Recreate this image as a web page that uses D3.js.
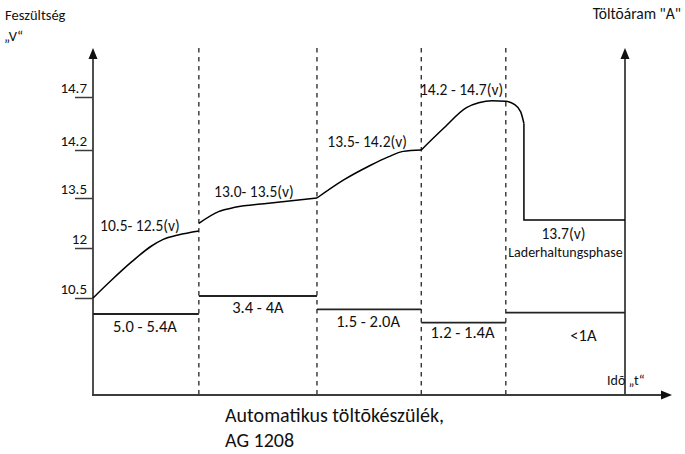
<!DOCTYPE html>
<html><head><meta charset="utf-8">
<script src="https://cdn.jsdelivr.net/npm/d3@7"></script>
<style>
html,body{margin:0;padding:0;background:#fff;}
svg{display:block;}
text{font-family:Carlito, Calibri, Lato, "Open Sans", sans-serif;fill:#111;}
</style></head>
<body>
<svg id="chart" width="685" height="454"></svg>
<script>
// ---------- DATA ----------
const voltageTicks = [10.5, 12, 13.5, 14.2, 14.7];
const voltageTickLabels = ["10.5", "12", "13.5", "14.2", "14.7"];
// phase boundaries along the time axis (0..100, schematic)
const phaseBounds = [0, 19.9, 42.1, 61.7, 77.6, 100];
const voltageLabels = ["10.5- 12.5(v)", "13.0- 13.5(v)", "13.5- 14.2(v)", "14.2 - 14.7(v)", "13.7(v)"];
const currentLabels = ["5.0 - 5.4A", "3.4 - 4A", "1.5 - 2.0A", "1.2 - 1.4A", "<1A"];
// relative current level (schematic) of each phase
const currentLevels = [0.81, 0.99, 0.857, 0.723, 0.823];
// voltage curve per phase: [time, volts]
const phase1 = [[0,10.5],[3.5,11.04],[7.3,11.59],[11.0,12.06],[13.2,12.26],[16.0,12.39],[19.9,12.51]];
const phase2 = [[19.9,12.74],[23.6,13.09],[26.7,13.22],[33.0,13.34],[42.1,13.5]];
const phase3 = [[42.1,13.5],[47.05,13.76],[52.0,13.97],[55.5,14.10],[58.3,14.18],[61.7,14.2]];
const phase4 = [[61.7,14.2],[65.8,14.40],[70.2,14.60],[72.5,14.645],[75.0,14.665],[77.5,14.66],[79.2,14.63],[80.4,14.56],[81.0,14.45]];
const phase5 = [[81.0,14.45],[81.0,12.84],[100,12.84]];
const leftTitle = ["Feszültség", "„V“"];
const rightTitle = "Töltõáram \"A\"";
const xTitle = "Idõ „t“";
const captionLines = ["Automatikus töltõkészülék,", "AG 1208"];

// ---------- LAYOUT ----------
const svg = d3.select("#chart");
const x0 = 93, x1 = 625, yBottom = 395, yTop = 48, xArrowEnd = 672;
const x = d3.scaleLinear().domain([0, 100]).range([x0, x1]);
const yV = d3.scaleLinear().domain(voltageTicks).range([298, 248, 198, 150, 97]);
const yA = d3.scaleLinear().domain([0, 1]).range([yBottom, 295]);
const axisColor = "#3c3c3c";

// dashed phase separators
svg.append("g").selectAll("line").data(phaseBounds.slice(1, 5)).join("line")
  .attr("x1", d => x(d)).attr("x2", d => x(d))
  .attr("y1", yTop).attr("y2", yBottom)
  .attr("stroke", "#111").attr("stroke-width", 1.2).attr("stroke-dasharray", "4.5,4.5");

// axes lines
const ax = svg.append("g").attr("stroke", axisColor).attr("stroke-width", 1.8);
ax.append("line").attr("x1", x0).attr("x2", x0).attr("y1", yTop + 8).attr("y2", yBottom);
ax.append("line").attr("x1", x1).attr("x2", x1).attr("y1", yTop + 8).attr("y2", yBottom);
ax.append("line").attr("x1", x0 - 1).attr("x2", xArrowEnd - 8).attr("y1", yBottom).attr("y2", yBottom);
// arrowheads
const arr = svg.append("g").attr("fill", "#111");
arr.append("path").attr("d", `M${x0},${yTop} L${x0-4.5},${yTop+11} L${x0+4.5},${yTop+11} Z`);
arr.append("path").attr("d", `M${x1},${yTop} L${x1-4.5},${yTop+11} L${x1+4.5},${yTop+11} Z`);
arr.append("path").attr("d", `M${xArrowEnd},${yBottom} L${xArrowEnd-11},${yBottom-4.5} L${xArrowEnd-11},${yBottom+4.5} Z`);

// y ticks
const yAxis = d3.axisLeft(yV).tickValues(voltageTicks).tickSize(18).tickFormat((d, i) => voltageTickLabels[i]);
const yg = svg.append("g").attr("transform", `translate(${x0},0)`).call(yAxis);
yg.select(".domain").remove();
yg.selectAll(".tick line").attr("stroke", axisColor).attr("stroke-width", 1.5);
yg.selectAll(".tick text").attr("x", -6).attr("dy", "-0.3em").attr("font-size", 15)
  .style("font-family", "Carlito, Calibri, Lato, sans-serif").attr("fill", "#111");

// voltage curve
const line = d3.line().x(d => x(d[0])).y(d => yV(d[1])).curve(d3.curveMonotoneX);
const lineLin = d3.line().x(d => x(d[0])).y(d => yV(d[1]));
const cg = svg.append("g").attr("fill", "none").attr("stroke", "#000").attr("stroke-width", 1.5);
[phase1, phase2, phase3, phase4].forEach(p => cg.append("path").attr("d", line(p)));
cg.append("path").attr("d", lineLin(phase5));

// current levels
svg.append("g").selectAll("line").data(currentLevels).join("line")
  .attr("x1", (d, i) => x(phaseBounds[i])).attr("x2", (d, i) => x(phaseBounds[i + 1]))
  .attr("y1", d => yA(d)).attr("y2", d => yA(d))
  .attr("stroke", "#222").attr("stroke-width", 1.8);

// labels
const mid = i => (x(phaseBounds[i]) + x(phaseBounds[i + 1])) / 2;
const vLabelY = [231, 197, 147, 95, 239];
const vLabelDx = [-6, -4, -2, -2, -2];
svg.append("g").selectAll("text").data(voltageLabels).join("text")
  .attr("x", (d, i) => mid(i) + vLabelDx[i]).attr("y", (d, i) => vLabelY[i])
  .attr("text-anchor", "middle").attr("font-size", 15.5).text(d => d);
svg.append("text").attr("x", mid(4)).attr("y", 257).attr("text-anchor", "middle")
  .attr("font-size", 14).text("Laderhaltungsphase");

const aLabelY = [332, 313, 327, 338, 341];
const aLabelDx = [-1, 0, -1, -1, 18];
svg.append("g").selectAll("text").data(currentLabels).join("text")
  .attr("x", (d, i) => mid(i) + aLabelDx[i]).attr("y", (d, i) => aLabelY[i])
  .attr("text-anchor", "middle").attr("font-size", 16.5).text(d => d);

// titles
svg.append("text").attr("x", 5).attr("y", 20).attr("font-size", 14.5).text(leftTitle[0]);
svg.append("text").attr("x", 4).attr("y", 41).attr("font-size", 14.5).text(leftTitle[1]);
svg.append("text").attr("x", 681).attr("y", 19).attr("text-anchor", "end").attr("font-size", 15.5).text(rightTitle);
svg.append("text").attr("x", 607).attr("y", 385).attr("font-size", 14).text(xTitle);
svg.append("g").selectAll("text").data(captionLines).join("text")
  .attr("x", 225).attr("y", (d, i) => 422 + i * 24.5).attr("font-size", 20).text(d => d);
</script>
</body></html>
